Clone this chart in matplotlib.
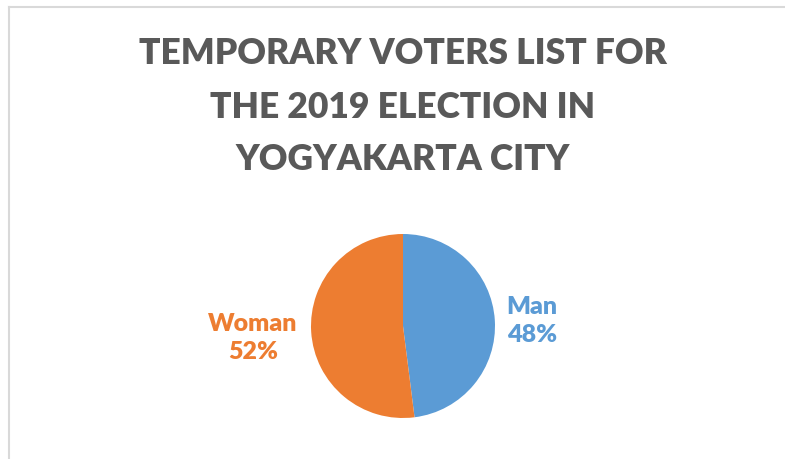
import matplotlib.pyplot as plt
from matplotlib.lines import Line2D

# Data
labels = ["Man", "Woman"]
shares = [48, 52]
colors = ["#5B9BD5", "#ED7D31"]
title_lines = ["TEMPORARY VOTERS LIST FOR", "THE 2019 ELECTION IN", "YOGYAKARTA CITY"]

W, H = 785, 460
fig = plt.figure(figsize=(W / 100, H / 100), dpi=100)
plt.rcParams['font.family'] = ['Lato', 'DejaVu Sans']

# chart area border (left and top only visible)
fig.add_artist(Line2D([9 / W, 9 / W], [0, 1 - 8 / H], transform=fig.transFigure, color="#D9D9D9", lw=1.5))
fig.add_artist(Line2D([9 / W, 1], [1 - 8 / H, 1 - 8 / H], transform=fig.transFigure, color="#D9D9D9", lw=1.5))

# title
for i, line in enumerate(title_lines):
    fig.text(403 / W, 1 - (54 + 53 * i) / H, line, ha="center", va="center",
             fontsize=25.5, fontweight="heavy", color="#595959")

# pie
cx, cy, r = 403, 327, 92
ax = fig.add_axes([(cx - r) / W, 1 - (cy + r) / H, 2 * r / W, 2 * r / H])
wedges, _ = ax.pie(shares, colors=colors, startangle=90, counterclock=False,
                   wedgeprops=dict(linewidth=0))
ax.set_xlim(-1, 1)
ax.set_ylim(-1, 1)
ax.set_aspect("equal")
ax.axis("off")

label_pos = [(532, 321), (253, 338)]
for lab, val, col, (x, y) in zip(labels, shares, colors, label_pos):
    fig.text(x / W, 1 - y / H, f"{lab}\n{val}%", ha="center", va="center",
             fontsize=18, fontweight="heavy", color=col, linespacing=1.3)

fig.savefig("out.png", dpi=100)
